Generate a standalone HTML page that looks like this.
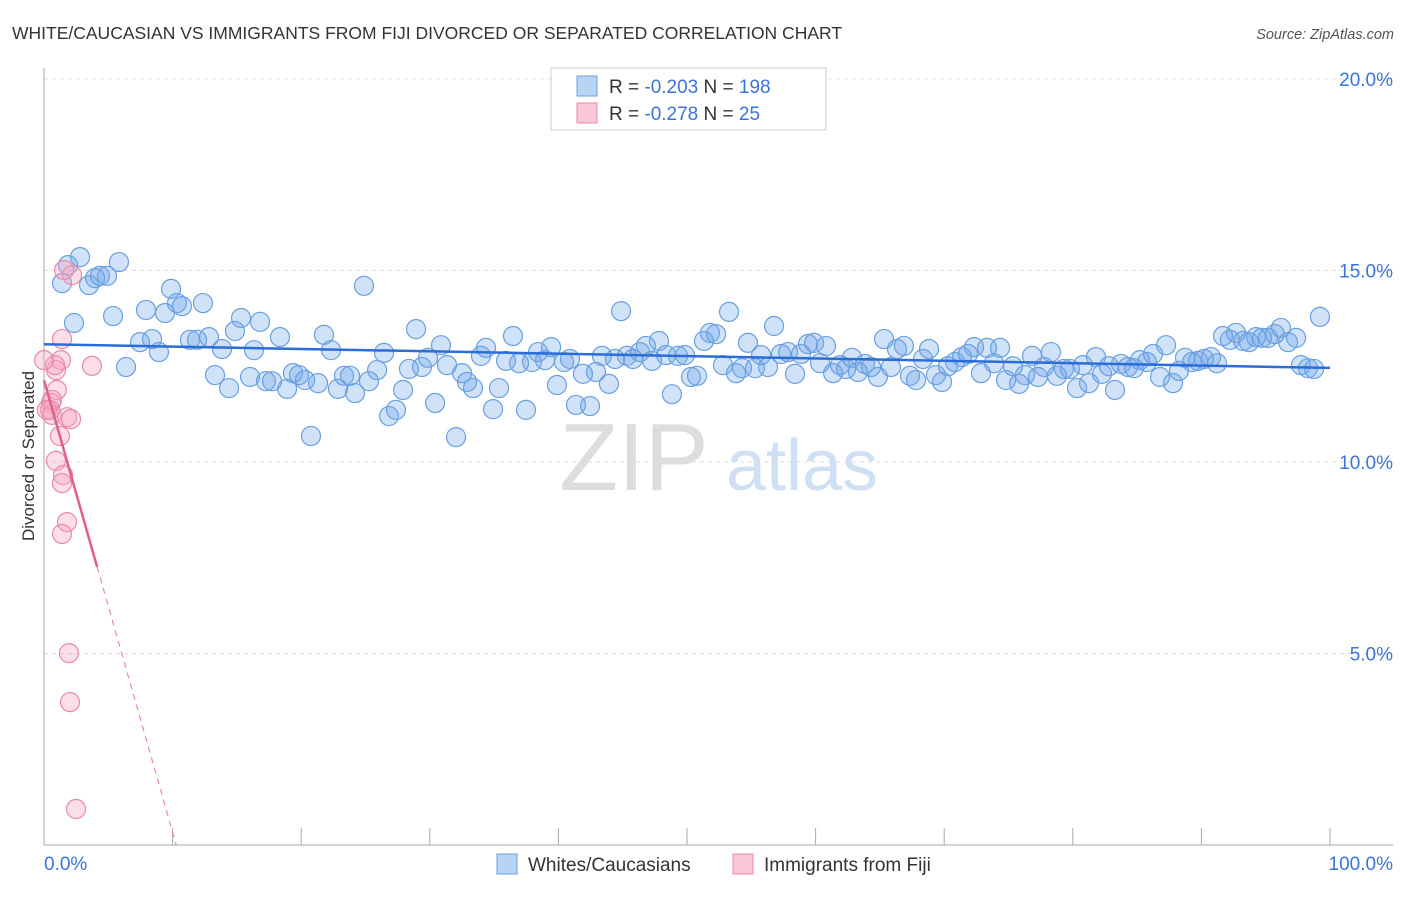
<!DOCTYPE html>
<html><head><meta charset="utf-8"><style>
body{margin:0;background:#fff;font-family:"Liberation Sans",sans-serif;}
svg text{font-family:"Liberation Sans",sans-serif;}
</style></head><body>
<svg id="chart" width="1406" height="892" viewBox="0 0 1406 892" xmlns="http://www.w3.org/2000/svg">
<text x="12" y="39" font-size="17.5" fill="#333">WHITE/CAUCASIAN VS IMMIGRANTS FROM FIJI DIVORCED OR SEPARATED CORRELATION CHART</text>
<text x="1394" y="39" font-size="14.5" fill="#555" font-style="italic" text-anchor="end">Source: ZipAtlas.com</text>
<text transform="translate(34,456) rotate(-90)" font-size="17" fill="#333" text-anchor="middle">Divorced or Separated</text>
<g>
<text x="634" y="490" font-size="96" fill="#ddd" font-family="Liberation Serif,serif" text-anchor="middle">ZIP</text>
<text x="802" y="490" font-size="72" fill="#cfe0f5" text-anchor="middle">atlas</text>
</g>
<g id="grid"></g>
<g id="axes"></g>
<g id="pts"></g>
<g id="lines"></g>
<g>
<rect x="551" y="68" width="275" height="62" fill="#fff" stroke="#ccc"/>
<rect x="577" y="76" width="20" height="20" fill="#b9d3f5" stroke="#6a9fe0"/>
<rect x="577" y="103" width="20" height="20" fill="#f9c7d6" stroke="#e88aa8"/>
<text x="609" y="93" font-size="19" fill="#333">R = <tspan fill="#3b73d6">-0.203</tspan>   N = <tspan fill="#3b73d6">198</tspan></text>
<text x="609" y="120" font-size="19" fill="#333">R =  <tspan fill="#3b73d6">-0.278</tspan>   N =   <tspan fill="#3b73d6">25</tspan></text>
</g>
<g>
<rect x="497" y="854" width="20" height="20" fill="#b9d3f5" stroke="#6a9fe0"/>
<text x="528" y="871" font-size="19" fill="#333">Whites/Caucasians</text>
<rect x="733" y="854" width="20" height="20" fill="#f9c7d6" stroke="#e88aa8"/>
<text x="764" y="871" font-size="19" fill="#333">Immigrants from Fiji</text>
</g>
</svg>
<script>
const xTicks=[0,10,20,30,40,50,60,70,80,90,100];
const yTicks=[5,10,15,20];
const yTickLabels=["5.0%","10.0%","15.0%","20.0%"];
const xEndLabels=["0.0%","100.0%"];
const blueX=[1.4,1.87,2.8,3.5,3.97,4.35,4.9,5.83,2.33,5.37,6.38,7.47,7.93,8.4,8.94,9.41,9.88,10.34,10.73,11.35,11.9,12.36,12.83,13.3,13.84,14.39,14.85,15.32,16.02,16.33,16.8,17.26,17.73,18.35,18.9,19.36,19.83,20.3,20.76,21.31,21.77,22.32,22.86,23.33,23.8,24.18,24.88,25.27,25.9,26.44,26.83,27.37,27.92,28.38,28.93,29.39,29.86,30.41,30.87,31.34,32.04,32.51,32.9,33.36,33.98,34.37,34.92,35.38,35.93,36.47,36.94,37.48,37.95,38.42,38.96,39.43,39.89,40.44,40.9,41.37,41.91,42.46,42.92,43.39,43.93,44.4,44.87,45.33,45.8,46.34,46.81,47.28,47.82,48.37,48.83,49.3,49.84,50.31,50.78,51.32,51.79,52.26,52.8,53.27,53.81,54.28,54.74,55.29,55.76,56.3,56.77,57.31,57.86,58.4,58.87,59.41,59.88,60.35,60.81,61.36,61.9,62.37,62.83,63.3,63.84,64.31,64.85,65.32,65.86,66.33,66.87,67.34,67.81,68.35,68.82,69.36,69.83,70.3,70.84,71.38,71.85,72.32,72.86,73.33,73.87,74.34,74.81,75.35,75.82,76.28,76.83,77.29,77.76,78.3,78.77,79.31,79.78,80.33,80.79,81.26,81.8,82.27,82.81,83.28,83.75,84.29,84.76,85.22,85.77,86.24,86.78,87.25,87.79,88.26,88.73,89.27,89.74,90.2,90.75,91.21,91.68,92.22,92.69,93.24,93.7,94.25,94.71,95.18,95.72,96.19,96.74,97.36,97.74,98.29,98.76,99.22];
const blueY=[14.67,15.14,15.35,14.62,14.8,14.86,14.86,15.22,13.63,13.81,12.48,13.13,13.97,13.21,12.87,13.89,14.52,14.15,14.07,13.19,13.19,14.15,13.26,12.27,12.95,11.93,13.42,13.76,12.22,12.92,13.66,12.11,12.11,13.26,11.91,12.32,12.27,12.14,10.68,12.06,13.32,12.92,11.91,12.25,12.25,11.8,14.6,12.11,12.4,12.85,11.2,11.36,11.88,12.43,13.47,12.48,12.72,11.54,13.05,12.53,10.65,12.32,12.09,11.93,12.77,12.98,11.38,11.93,12.64,13.29,12.58,11.36,12.61,12.87,12.66,13.0,12.01,12.61,12.69,11.49,12.3,11.46,12.35,12.77,12.04,12.69,13.94,12.77,12.69,12.87,13.03,12.64,13.16,12.79,11.77,12.77,12.79,12.22,12.25,13.16,13.37,13.34,12.53,13.92,12.32,12.45,13.11,12.45,12.79,12.48,13.55,12.82,12.87,12.3,12.82,13.08,13.11,12.58,13.03,12.32,12.53,12.43,12.72,12.35,12.56,12.48,12.22,13.21,12.48,12.95,13.03,12.25,12.14,12.69,12.95,12.27,12.09,12.5,12.61,12.74,12.82,13.0,12.32,12.98,12.58,12.98,12.14,12.5,12.04,12.27,12.77,12.22,12.48,12.87,12.25,12.43,12.43,11.93,12.53,12.06,12.74,12.3,12.5,11.88,12.56,12.48,12.45,12.66,12.61,12.82,12.22,13.05,12.06,12.38,12.72,12.61,12.64,12.69,12.74,12.58,13.29,13.19,13.37,13.16,13.13,13.26,13.24,13.24,13.34,13.5,13.13,13.24,12.53,12.45,12.43,13.79];
const pinkX=[1.4,1.32,0.93,3.73,1.0,0.54,0.47,0.62,1.79,2.1,1.24,0.93,1.48,1.4,1.79,1.4,1.94,2.02,2.49,2.18,1.56,0.86,0.62,0.23,0.0];
const pinkY=[13.21,12.66,12.4,12.51,11.88,11.54,11.36,11.23,11.17,11.12,10.68,10.03,9.66,9.45,8.43,8.12,5.01,3.73,0.94,14.88,15.01,12.53,11.62,11.36,12.66];

const NS="http://www.w3.org/2000/svg";
const X0=44,X1=1330,Y0=845,PPY=38.3;
const sx=v=>X0+(X1-X0)*v/100;
const sy=v=>Y0-v*PPY;
function mk(tag,attrs,parent){const e=document.createElementNS(NS,tag);for(const k in attrs)e.setAttribute(k,attrs[k]);parent.appendChild(e);return e;}
const grid=document.getElementById('grid'),axes=document.getElementById('axes'),pts=document.getElementById('pts'),lines=document.getElementById('lines');
yTicks.forEach((t,i)=>{
 const l=mk('line',{x1:X0,x2:1393,y1:sy(t),y2:sy(t),stroke:'#ddd','stroke-dasharray':'4 4'},grid);
 
 
 const tx=mk('text',{x:1393,y:sy(t)+7,'font-size':19,fill:'#3b73d6','text-anchor':'end'},grid);
 tx.textContent=yTickLabels[i];
 
 
});
const xa=mk('line',{x1:X0,x2:1393,y1:Y0,y2:Y0,stroke:'#aaa'},axes);


const ya=mk('line',{x1:X0,x2:X0,y1:68,y2:Y0,stroke:'#aaa'},axes);


xTicks.forEach(t=>{
 const l=mk('line',{x1:sx(t),x2:sx(t),y1:Y0-17,y2:Y0,stroke:'#aaa'},axes);
 
 
});
[[0,'start',44],[100,'end',1393]].forEach((d,i)=>{
 const tx=mk('text',{x:d[2],y:870,'font-size':19,fill:'#3b73d6','text-anchor':d[1]},axes);
 tx.textContent=xEndLabels[i];
 
 
});
function drawPts(xs,ys,fill,stroke,name){
 xs.forEach((x,i)=>{
  const c=mk('circle',{cx:sx(x),cy:sy(ys[i]),r:9.5,fill:fill,stroke:stroke,'stroke-width':1.2},pts);
  
  
 });
}
drawPts(blueX,blueY,'rgba(110,165,232,0.32)','#6a9fe0','white-point');
drawPts(pinkX,pinkY,'rgba(245,160,188,0.35)','#e88aa8','fiji-point');
function fit(xs,ys){const n=xs.length;let mx=0,my=0;xs.forEach((x,i)=>{mx+=x;my+=ys[i];});mx/=n;my/=n;let sxy=0,sxx=0;xs.forEach((x,i)=>{sxy+=(x-mx)*(ys[i]-my);sxx+=(x-mx)**2;});const b=sxy/sxx;return [my-b*mx,b];}
const bf=fit(blueX,blueY);
const bl=mk('line',{x1:sx(0),y1:sy(bf[0]),x2:sx(100),y2:sy(bf[0]+bf[1]*100),stroke:'#2a6dd6','stroke-width':2.5},lines);


const pf=fit(pinkX,pinkY);
const pmax=Math.max(...pinkX)+0.4;
const pl=mk('line',{x1:sx(0),y1:sy(pf[0]),x2:sx(pmax),y2:sy(pf[0]+pf[1]*pmax),stroke:'#e0608a','stroke-width':2.5},lines);


const xz=pf[1]<0?Math.min(100,-pf[0]/pf[1]):100;
const pd=mk('line',{x1:sx(pmax),y1:sy(pf[0]+pf[1]*pmax),x2:sx(xz),y2:sy(pf[0]+pf[1]*xz),stroke:'#e88aa8','stroke-width':1.2,'stroke-dasharray':'6 5'},lines);


</script>
</body></html>
